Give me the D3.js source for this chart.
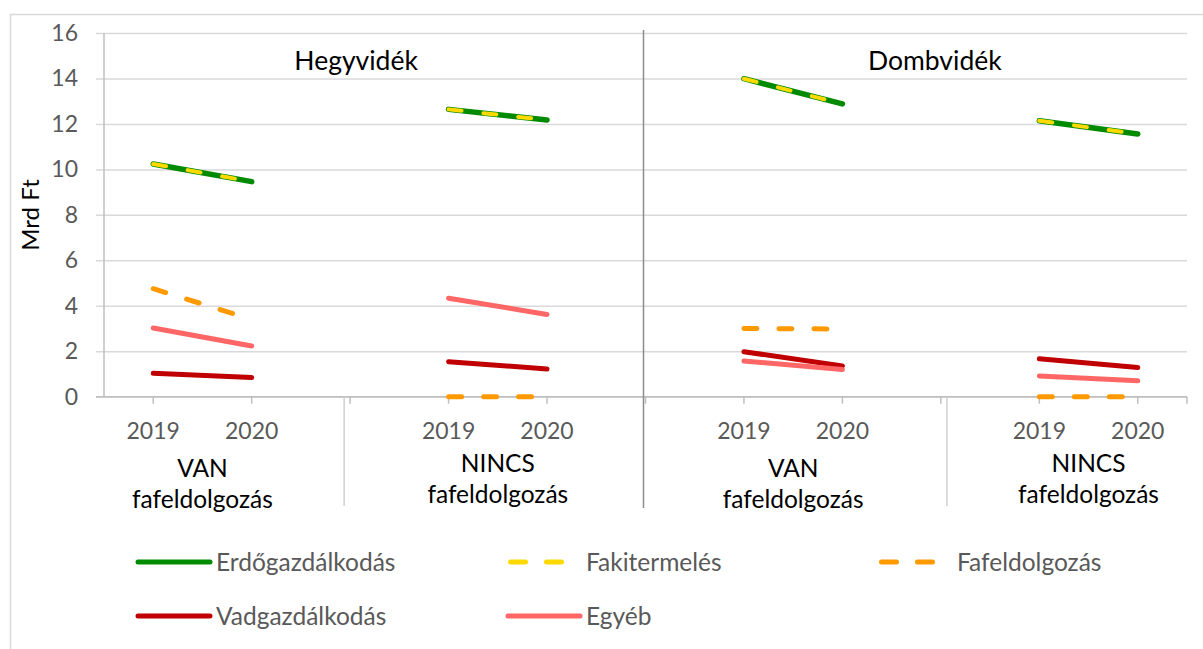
<!DOCTYPE html>
<html>
<head>
<meta charset="utf-8">
<script src="https://cdn.jsdelivr.net/npm/d3@7"></script>
<style>
  html, body { margin: 0; padding: 0; background: #fff; }
  svg { display: block; font-family: Lato, "Open Sans", sans-serif; }
</style>
</head>
<body>
<div id="chart"></div>
<script>
// categories on the x axis (blank slots separate the groups)
const categories = ['2019', '2020', '', '2019', '2020', '', '2019', '2020', '', '2019', '2020'];
const groupLabels = [['VAN', 'fafeldolgozás'], ['NINCS', 'fafeldolgozás'], ['VAN', 'fafeldolgozás'], ['NINCS', 'fafeldolgozás']];
const regionLabels = ['Hegyvidék', 'Dombvidék'];
const yTicks = [0, 2, 4, 6, 8, 10, 12, 14, 16];

// series values, Mrd Ft
const erdogazdalkodas = [10.24, 9.46, null, 12.64, 12.17, null, 13.99, 12.88, null, 12.14, 11.56];
const fakitermeles    = [10.24, 9.46, null, 12.64, 12.17, null, 13.99, 12.88, null, 12.14, 11.56];
const fafeldolgozas   = [4.75, 3.40, null, 0, 0, null, 3.0, 2.98, null, 0, 0];
const vadgazdalkodas  = [1.03, 0.84, null, 1.54, 1.22, null, 1.98, 1.35, null, 1.67, 1.28];
const egyeb           = [3.02, 2.23, null, 4.33, 3.62, null, 1.57, 1.20, null, 0.91, 0.70];

const series = [
  { name: 'Erdőgazdálkodás', values: erdogazdalkodas, color: '#008a00', width: 5.5, dash: null },
  { name: 'Fakitermelés',    values: fakitermeles,    color: '#ffd900', width: 4,   dash: '13,22' },
  { name: 'Fafeldolgozás',   values: fafeldolgozas,   color: '#ff9900', width: 5,   dash: '13,22' },
  { name: 'Vadgazdálkodás',  values: vadgazdalkodas,  color: '#c00000', width: 5,   dash: null },
  { name: 'Egyéb',           values: egyeb,           color: '#ff6666', width: 5,   dash: null }
];

const W = 1203, H = 649;
const plot = { left: 104, right: 1187, top: 33, bottom: 396.7 };

const svg = d3.select('#chart').append('svg')
  .attr('width', W).attr('height', H);

// outer chart frame
svg.append('rect')
  .attr('x', 10.5).attr('y', 14.5)
  .attr('width', 1200).attr('height', 650)
  .attr('fill', 'none').attr('stroke', '#d9d9d9').attr('stroke-width', 1.5);

const band = d3.scaleBand()
  .domain(d3.range(categories.length))
  .range([plot.left, plot.right])
  .paddingInner(0).paddingOuter(0);
const x = i => band(i) + band.bandwidth() / 2;

const y = d3.scaleLinear().domain([0, 16]).range([plot.bottom, plot.top]);

// gridlines + y axis
const yAxis = d3.axisLeft(y).tickValues(yTicks).tickSize(-(plot.right - plot.left)).tickPadding(26);
const gy = svg.append('g').attr('transform', `translate(${plot.left},0)`).call(yAxis);
gy.select('.domain').remove();
gy.selectAll('.tick line')
  .attr('x1', -8)
  .attr('stroke', '#d9d9d9').attr('stroke-width', 1.5);
gy.selectAll('.tick text')
  .attr('fill', '#595959').style('font-size', '23px').style('font-family', 'Lato, sans-serif');

svg.append('line')
  .attr('x1', plot.left).attr('x2', plot.left)
  .attr('y1', plot.top).attr('y2', plot.bottom)
  .attr('stroke', '#bfbfbf').attr('stroke-width', 1.5);

// x axis line and tick marks
svg.append('line')
  .attr('x1', plot.left - 8).attr('x2', plot.right)
  .attr('y1', plot.bottom).attr('y2', plot.bottom)
  .attr('stroke', '#bfbfbf').attr('stroke-width', 1.5);

const tickXs = categories.map((c, i) => x(i)).concat([plot.right]);
svg.append('g').selectAll('line').data(tickXs).join('line')
  .attr('x1', d => d).attr('x2', d => d)
  .attr('y1', plot.bottom).attr('y2', plot.bottom + 7)
  .attr('stroke', '#bfbfbf').attr('stroke-width', 1.5);

// year labels
svg.append('g').selectAll('text').data(categories.map((c, i) => ({ c, i })).filter(d => d.c))
  .join('text')
  .attr('x', d => x(d.i)).attr('y', 439)
  .attr('text-anchor', 'middle')
  .attr('fill', '#595959').style('font-size', '23px')
  .text(d => d.c);

// group labels (two lines, centered under each 2019/2020 pair)
groupLabels.forEach((lines, gi) => {
  const cx = (x(gi * 3) + x(gi * 3 + 1)) / 2;
  const base = lines[0] === 'VAN' ? 477 : 472;
  lines.forEach((t, li) => {
    svg.append('text')
      .attr('x', cx).attr('y', base + li * 31)
      .attr('text-anchor', 'middle')
      .attr('fill', '#000').style('font-size', '24.5px')
      .text(t);
  });
});

// group separators below the axis
[x(2) - 6, x(8) + 6].forEach(sx => {
  svg.append('line')
    .attr('x1', sx).attr('x2', sx)
    .attr('y1', plot.bottom).attr('y2', 506)
    .attr('stroke', '#d0d0d0').attr('stroke-width', 1.5);
});
// Hegyvidék / Dombvidék divider
svg.append('line')
  .attr('x1', x(5) - 2).attr('x2', x(5) - 2)
  .attr('y1', 30).attr('y2', 508)
  .attr('stroke', '#8c8c8c').attr('stroke-width', 1.5);

// region titles
[x(2) + 6, x(8) - 6].forEach((cx, i) => {
  svg.append('text')
    .attr('x', cx).attr('y', 70)
    .attr('text-anchor', 'middle')
    .attr('fill', '#000').style('font-size', '26.5px')
    .text(regionLabels[i]);
});

// y axis title
svg.append('text')
  .attr('transform', 'translate(39,215) rotate(-90)')
  .attr('text-anchor', 'middle')
  .attr('fill', '#000').style('font-size', '24px')
  .text('Mrd Ft');

// lines
const line = d3.line()
  .defined(d => d.v !== null)
  .x(d => x(d.i))
  .y(d => y(d.v));

svg.append('g').selectAll('path').data(series).join('path')
  .attr('d', s => line(s.values.map((v, i) => ({ v, i }))))
  .attr('fill', 'none')
  .attr('stroke', s => s.color)
  .attr('stroke-width', s => s.width)
  .attr('stroke-linecap', 'round')
  .attr('stroke-linejoin', 'round')
  .attr('stroke-dasharray', s => s.dash);

// legend
const legendPos = [
  { lx: 138, ly: 562 }, { lx: 508, ly: 562 }, { lx: 879, ly: 562 },
  { lx: 138, ly: 616 }, { lx: 508, ly: 616 }
];
const leg = svg.append('g').selectAll('g').data(series).join('g')
  .attr('transform', (s, i) => `translate(${legendPos[i].lx},${legendPos[i].ly})`);
leg.append('line')
  .attr('x1', 0).attr('x2', 72).attr('y1', 0).attr('y2', 0)
  .attr('stroke', s => s.color)
  .attr('stroke-width', 5)
  .attr('stroke-linecap', 'round')
  .attr('stroke-dasharray', s => s.dash ? '15,21' : null)
  .attr('transform', s => s.dash ? 'translate(2.5,0)' : null);
leg.append('text')
  .attr('x', 78).attr('y', 0).attr('dy', '0.36em')
  .attr('fill', '#595959').style('font-size', '24.5px')
  .text(s => s.name);
</script>
</body>
</html>
